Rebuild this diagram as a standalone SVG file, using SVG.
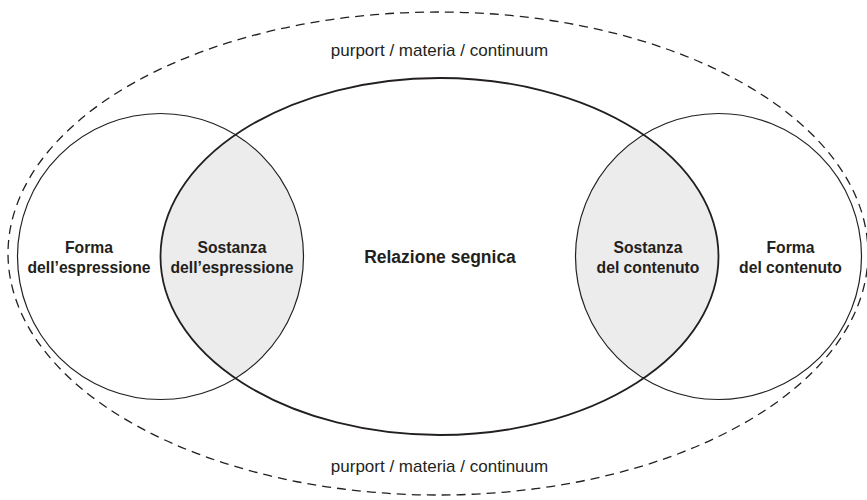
<svg xmlns="http://www.w3.org/2000/svg" width="867" height="500" viewBox="0 0 867 500">
  <style>
    .lbl { font-family: "Liberation Sans", Arial, sans-serif; font-weight: bold; font-size: 15.7px; fill: #231f20; text-anchor: middle; }
    .main { font-family: "Liberation Sans", Arial, sans-serif; font-weight: bold; font-size: 17.5px; fill: #231f20; text-anchor: middle; }
    .cont { font-family: "Liberation Sans", Arial, sans-serif; font-size: 17px; fill: #231f20; text-anchor: middle; }
    .outer { fill: none; stroke: #231f20; stroke-width: 1.3; stroke-dasharray: 9 6; }
    .circ { fill: none; stroke: #231f20; stroke-width: 1.2; }
    .ell { fill: none; stroke: #231f20; stroke-width: 1.8; }
    .lens { fill: #ececec; stroke: none; }
  </style>
  <defs>
    <clipPath id="inEllipse">
      <ellipse cx="439.5" cy="256.5" rx="279" ry="178.5"/>
    </clipPath>
  </defs>
  <rect width="867" height="500" fill="#ffffff"/>

  <g id="purport">
    <ellipse class="outer" cx="438" cy="253.5" rx="430" ry="241.5"/>
    <text class="cont" x="439.5" y="56">purport / materia / continuum</text>
    <text class="cont" x="439.5" y="472">purport / materia / continuum</text>
  </g>

  <g id="sostanza-espressione">
    <circle class="lens" cx="160.5" cy="256.5" r="143" clip-path="url(#inEllipse)"/>
    <text class="lbl" x="232" y="253">Sostanza</text>
    <text class="lbl" x="232" y="273">dell’espressione</text>
  </g>

  <g id="sostanza-contenuto">
    <circle class="lens" cx="718.5" cy="256.5" r="143" clip-path="url(#inEllipse)"/>
    <text class="lbl" x="648" y="253">Sostanza</text>
    <text class="lbl" x="648" y="273">del contenuto</text>
  </g>

  <g id="forma-espressione">
    <circle class="circ" cx="160.5" cy="256.5" r="143"/>
    <text class="lbl" x="89" y="253">Forma</text>
    <text class="lbl" x="89" y="273">dell’espressione</text>
  </g>

  <g id="forma-contenuto">
    <circle class="circ" cx="718.5" cy="256.5" r="143"/>
    <text class="lbl" x="790.5" y="253">Forma</text>
    <text class="lbl" x="790.5" y="273">del contenuto</text>
  </g>

  <g id="relazione-segnica">
    <ellipse class="ell" cx="439.5" cy="256.5" rx="279" ry="178.5"/>
    <text class="main" x="440" y="263">Relazione segnica</text>
  </g>

  <g id="connectors"/>
</svg>
